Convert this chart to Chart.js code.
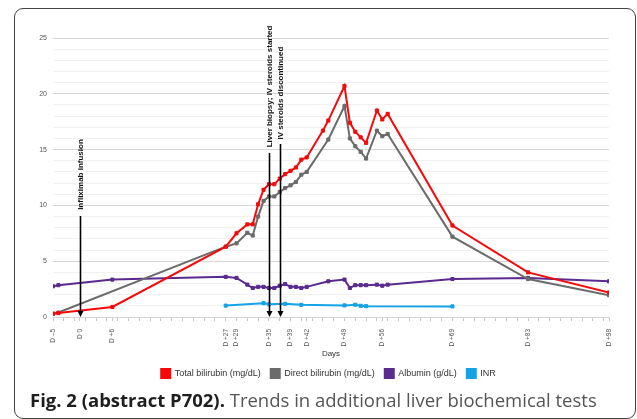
<!DOCTYPE html>
<html><head><meta charset="utf-8">
<script src="https://cdn.jsdelivr.net/npm/chart.js@4.4.1/dist/chart.umd.min.js"></script>
<style>
html,body{margin:0;padding:0;background:#fff;}
body{width:637px;height:419px;position:relative;overflow:hidden;font-family:"Liberation Sans",Arial,sans-serif;}
#frame{position:absolute;left:14px;top:8px;width:622px;height:411px;border:1.5px solid #444;border-radius:9px;box-sizing:border-box;}
#wrap{position:absolute;left:0;top:0;width:637px;height:392px;}
#caption{position:absolute;left:30px;top:391px;font-family:"Open Sans",sans-serif;font-size:18.5px;line-height:18.5px;color:#555;white-space:nowrap;}
#caption b{color:#1e1e1e;font-weight:700;}
</style></head><body>
<div id="frame"></div>
<div id="wrap"><canvas id="c" width="637" height="392"></canvas></div>
<div id="caption"><b>Fig. 2 (abstract P702).</b> Trends in additional liver biochemical tests</div>
<script>
// ---- data ----
const seriesNames = ['Total bilirubin (mg/dL)', 'Direct bilirubin (mg/dL)', 'Albumin (g/dL)', 'INR'];

const totalDays = [-5,-4,6,27,29,31,32,33,34,35,36,37,38,39,40,41,42,45,46,49,50,51,52,53,55,56,57,69,83,98];
const totalBili = [0.3,0.35,0.9,6.3,7.5,8.3,8.3,10.1,11.4,11.9,11.9,12.4,12.8,13.1,13.4,14.1,14.3,16.7,17.6,20.7,17.4,16.6,16.1,15.6,18.5,17.7,18.2,8.2,4.0,2.2];

const directDays = [-5,-4,27,29,31,32,33,34,35,36,37,38,39,40,41,42,46,49,50,51,52,53,55,56,57,69,83,98];
const directBili = [0.3,0.4,6.3,6.6,7.55,7.3,9.0,10.4,10.8,10.8,11.2,11.55,11.8,12.1,12.75,13.0,15.9,18.9,16.0,15.3,14.8,14.2,16.7,16.2,16.4,7.2,3.4,1.95];

const albuminDays = [-5,-4,6,27,29,31,32,33,34,35,36,37,38,39,40,41,42,46,49,50,51,52,53,55,56,57,69,83,98];
const albumin = [2.75,2.85,3.35,3.6,3.5,2.9,2.6,2.7,2.7,2.6,2.6,2.8,2.95,2.7,2.7,2.6,2.7,3.2,3.35,2.6,2.85,2.85,2.85,2.9,2.8,2.9,3.4,3.5,3.2];

const inrDays = [27,34,35,38,41,49,51,52,53,69];
const inr = [1.02,1.24,1.14,1.18,1.09,1.04,1.1,1.0,0.97,0.95];

const labeledDays = [-5,0,6,27,29,35,39,42,49,56,69,83,98];
const dayLabels = ['D \u20135','D 0','D +6','D +27','D +29','D +35','D +39','D +42','D +49','D +56','D +69','D +83','D +98'];

const eventDays = [0, 35, 37];
const eventTexts = ['Infliximab infusion', 'Liver biopsy; IV steroids started', 'IV steroids discontinued'];
const eventArrowTop = [9.05, 14.7, 15.5];
const eventTextBase = [9.6, 15.2, 15.9];

// ---- build ----
const toPts = (xs, ys) => xs.map((x, i) => ({x: x, y: ys[i]}));
const colors = ['#f50a0a', '#6b6b6b', '#5a2a8f', '#14a3e5'];
const allSeries = [toPts(totalDays, totalBili), toPts(directDays, directBili), toPts(albuminDays, albumin), toPts(inrDays, inr)];

const minorDays = [];
for (let d = -5; d <= 97; d += 2) minorDays.push(d);
const tickDays = Array.from(new Set(minorDays.concat(labeledDays))).sort((a, b) => a - b);

const datasets = allSeries.map((pts, i) => ({
  label: seriesNames[i],
  data: pts,
  borderColor: colors[i],
  backgroundColor: colors[i],
  borderWidth: 2,
  pointStyle: 'rect',
  pointRadius: 2.2,
  pointBorderWidth: 1,
  pointBackgroundColor: colors[i],
  pointBorderColor: colors[i],
  tension: 0,
  fill: false
}));

const arrowPlugin = {
  id: 'arrows',
  afterLayout(chart) {
    // centre the legend row under the plot like the reference
    if (chart.legend) chart.legend.left = 48;
  },
  afterDatasetsDraw(chart) {
    const ctx = chart.ctx, xs = chart.scales.x, ys = chart.scales.y;
    const y0 = ys.getPixelForValue(0);
    ctx.save();
    eventDays.forEach((d, i) => {
      const x = Math.round(xs.getPixelForValue(d)) + 0.5;
      const yt = ys.getPixelForValue(eventArrowTop[i]);
      ctx.strokeStyle = '#000';
      ctx.fillStyle = '#000';
      ctx.lineWidth = 1.6;
      ctx.beginPath();
      ctx.moveTo(x, yt);
      ctx.lineTo(x, y0 - 5);
      ctx.stroke();
      ctx.beginPath();
      ctx.moveTo(x - 3, y0 - 6);
      ctx.lineTo(x + 3, y0 - 6);
      ctx.lineTo(x, y0);
      ctx.closePath();
      ctx.fill();
      const yb = ys.getPixelForValue(eventTextBase[i]);
      ctx.save();
      ctx.translate(x, yb);
      ctx.rotate(-Math.PI / 2);
      ctx.font = 'bold 8px "Liberation Sans", Arial, sans-serif';
      ctx.textAlign = 'left';
      ctx.textBaseline = 'middle';
      ctx.fillStyle = '#111';
      ctx.fillText(eventTexts[i], 0, 0);
      ctx.restore();
    });
    ctx.restore();
  }
};

Chart.defaults.font.family = '"Liberation Sans", Arial, sans-serif';

new Chart(document.getElementById('c'), {
  type: 'line',
  data: {datasets: datasets},
  plugins: [arrowPlugin],
  options: {
    responsive: false,
    animation: false,
    devicePixelRatio: 1,
    layout: {padding: {top: 38, right: 28, left: 30, bottom: 4}},
    plugins: {
      tooltip: {enabled: false},
      legend: {
        position: 'bottom',
        labels: {boxWidth: 9, boxHeight: 9, padding: 10, color: '#333', font: {size: 9}}
      }
    },
    scales: {
      x: {
        type: 'linear', min: -5, max: 98,
        afterBuildTicks: (scale) => { scale.ticks = tickDays.map(v => ({value: v})); },
        afterFit: (scale) => { scale.height = 42; },
        ticks: {
          autoSkip: false, minRotation: 90, maxRotation: 90, padding: 8,
          color: '#555', font: {size: 6.5},
          callback: (v) => { const k = labeledDays.indexOf(v); return k >= 0 ? dayLabels[k] : ''; }
        },
        grid: {drawOnChartArea: false, drawTicks: true, tickLength: 4, tickColor: '#c8c8c8'},
        border: {display: true, color: '#d4d4d4'},
        title: {display: true, text: 'Days', color: '#333', font: {size: 8}, padding: {top: 2, bottom: 0}}
      },
      y: {
        min: 0, max: 25,
        afterFit: (scale) => { scale.width = 23; },
        ticks: {
          stepSize: 1, autoSkip: false, padding: 6, color: '#555', font: {size: 7},
          callback: (v) => (v % 5 === 0 ? String(v) : '')
        },
        grid: {
          drawTicks: false,
          color: (c) => (c.tick && c.tick.value % 5 === 0 ? '#d6d6d6' : '#f1f1f1'),
          lineWidth: 1
        },
        border: {display: false}
      }
    }
  }
});
</script>
</body></html>
